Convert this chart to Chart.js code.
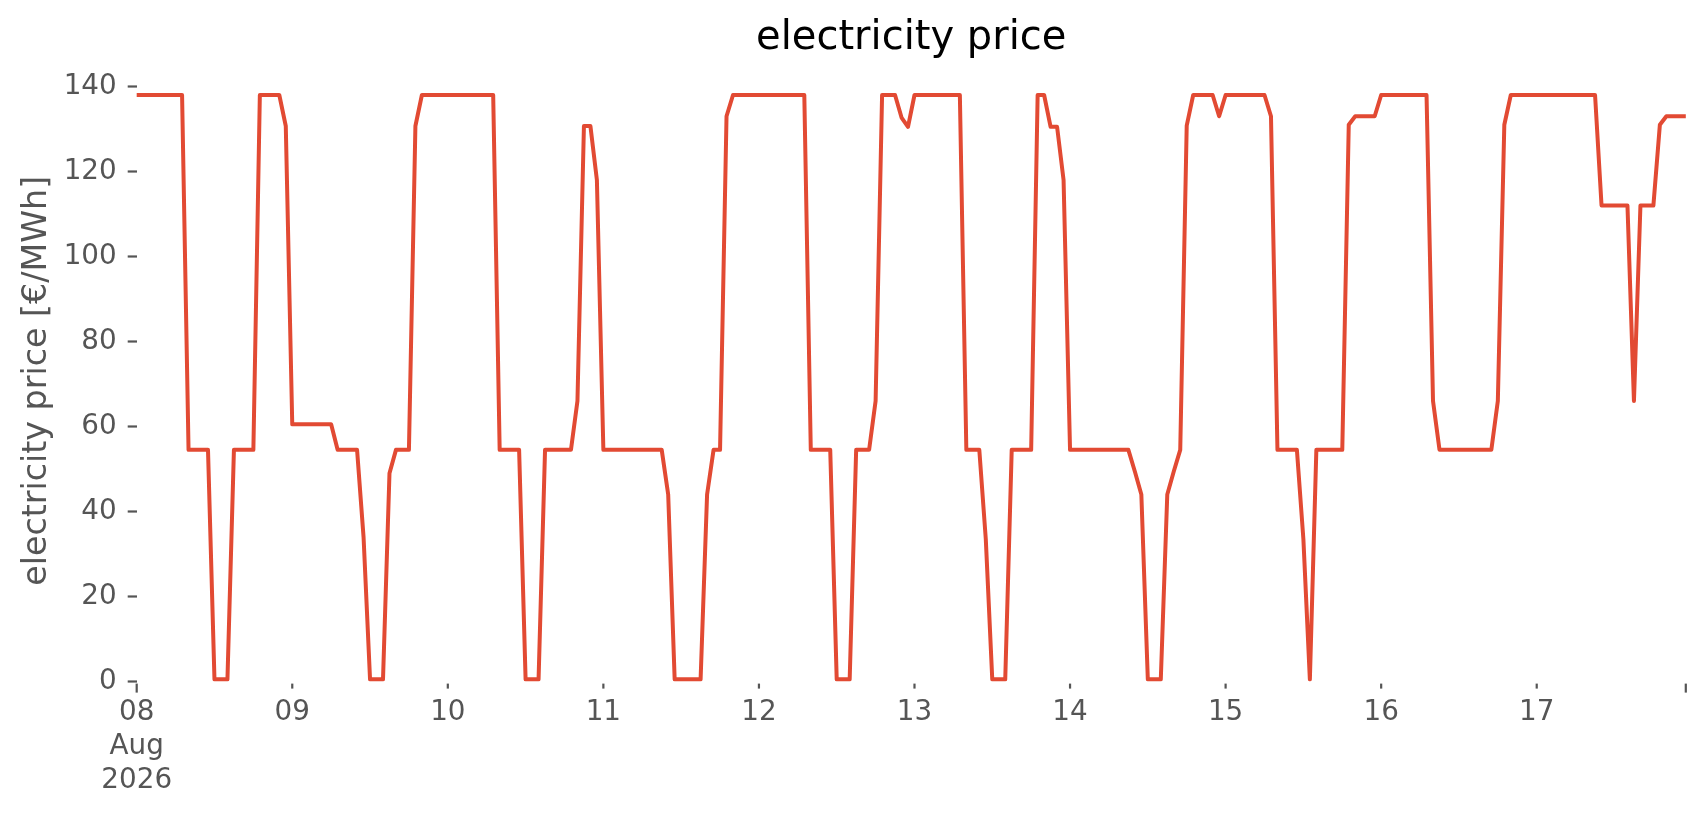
<!DOCTYPE html>
<html>
<head>
<meta charset="utf-8">
<script src="https://cdn.jsdelivr.net/npm/chart.js@4.4.1/dist/chart.umd.min.js"></script>
<style>
  html, body { margin: 0; padding: 0; background: #ffffff; }
  #wrap { width: 1706px; height: 815px; }
</style>
</head>
<body>
<div id="wrap"><canvas id="c" width="1706" height="815"></canvas></div>
<script>
// ---- data (hourly electricity price, €/MWh) ----
const dayLabels = ['08', '09', '10', '11', '12', '13', '14', '15', '16', '17'];
const monthLabel = 'Aug';
const yearLabel = '2026';

const price08 = [138, 138, 138, 138, 138, 138, 138, 138, 54.5, 54.5, 54.5, 54.5, 0.5, 0.5, 0.5, 54.5, 54.5, 54.5, 54.5, 138, 138, 138, 138, 130.7];
const price09 = [60.5, 60.5, 60.5, 60.5, 60.5, 60.5, 60.5, 54.5, 54.5, 54.5, 54.5, 34, 0.5, 0.5, 0.5, 49, 54.5, 54.5, 54.5, 130.7, 138, 138, 138, 138];
const price10 = [138, 138, 138, 138, 138, 138, 138, 138, 54.5, 54.5, 54.5, 54.5, 0.5, 0.5, 0.5, 54.5, 54.5, 54.5, 54.5, 54.5, 66, 130.7, 130.7, 118];
const price11 = [54.5, 54.5, 54.5, 54.5, 54.5, 54.5, 54.5, 54.5, 54.5, 54.5, 44, 0.5, 0.5, 0.5, 0.5, 0.5, 44, 54.5, 54.5, 133, 138, 138, 138, 138];
const price12 = [138, 138, 138, 138, 138, 138, 138, 138, 54.5, 54.5, 54.5, 54.5, 0.5, 0.5, 0.5, 54.5, 54.5, 54.5, 66, 138, 138, 138, 132.7, 130.5];
const price13 = [138, 138, 138, 138, 138, 138, 138, 138, 54.5, 54.5, 54.5, 33.5, 0.5, 0.5, 0.5, 54.5, 54.5, 54.5, 54.5, 138, 138, 130.5, 130.5, 118];
const price14 = [54.5, 54.5, 54.5, 54.5, 54.5, 54.5, 54.5, 54.5, 54.5, 54.5, 49.4, 44, 0.5, 0.5, 0.5, 44, 49.4, 54.5, 130.8, 138, 138, 138, 138, 133];
const price15 = [138, 138, 138, 138, 138, 138, 138, 133, 54.5, 54.5, 54.5, 54.5, 33.5, 0.5, 54.5, 54.5, 54.5, 54.5, 54.5, 131, 133, 133, 133, 133];
const price16 = [138, 138, 138, 138, 138, 138, 138, 138, 66, 54.5, 54.5, 54.5, 54.5, 54.5, 54.5, 54.5, 54.5, 54.5, 66, 131, 138, 138, 138, 138];
const price17 = [138, 138, 138, 138, 138, 138, 138, 138, 138, 138, 112, 112, 112, 112, 112, 66, 112, 112, 112, 131, 133, 133, 133, 133];

const yTickValues = [0, 20, 40, 60, 80, 100, 120, 140];

// ---- build series ----
const dailyPrices = [price08, price09, price10, price11, price12, price13, price14, price15, price16, price17];
const prices = dailyPrices.flat();
const points = prices.map((v, i) => ({ x: i, y: v }));
const lastHour = prices.length - 1;
const xTickValues = dayLabels.map((_, i) => i * 24).concat([lastHour]);

const FONT = 'DejaVu Sans';
const GREY = '#555555';

// tick marks on the date axis (major at start/end, minor at each day)
const xTickMarks = {
  id: 'xTickMarks',
  afterDraw(chart) {
    const s = chart.scales.x;
    const ctx = chart.ctx;
    const b = chart.chartArea.bottom;
    ctx.save();
    ctx.strokeStyle = GREY;
    ctx.lineWidth = 2.2;
    xTickValues.forEach(v => {
      const px = s.getPixelForValue(v);
      const major = (v === 0 || v === lastHour);
      ctx.beginPath();
      ctx.moveTo(px, b);
      ctx.lineTo(px, b + (major ? 9 : 5));
      ctx.stroke();
    });
    ctx.restore();
  }
};

new Chart(document.getElementById('c'), {
  type: 'line',
  data: {
    datasets: [{
      data: points,
      borderColor: '#E24A33',
      backgroundColor: '#E24A33',
      borderWidth: 4,
      pointRadius: 0,
      tension: 0,
      borderJoinStyle: 'round',
      borderCapStyle: 'square',
      fill: false
    }]
  },
  options: {
    responsive: false,
    devicePixelRatio: 1,
    animation: false,
    layout: { padding: { left: 0, right: 20.2, top: 0, bottom: 0 } },
    plugins: {
      legend: { display: false },
      tooltip: { enabled: false },
      title: {
        display: true,
        text: 'electricity price',
        color: '#000000',
        fullSize: false,
        font: { family: FONT, size: 40, weight: 'normal', lineHeight: 1.2 },
        padding: { top: 15, bottom: 15 }
      }
    },
    scales: {
      x: {
        type: 'linear',
        min: 0,
        max: lastHour,
        offset: false,
        afterBuildTicks: s => { s.ticks = xTickValues.map(v => ({ value: v })); },
        afterFit: s => { s.height = 815 - 683.6; },
        ticks: {
          autoSkip: false,
          maxRotation: 0,
          minRotation: 0,
          padding: 12.7,
          color: GREY,
          font: { family: FONT, size: 27.8, lineHeight: 1.22 },
          callback: v => {
            if (v === 0) return [dayLabels[0], monthLabel, yearLabel];
            if (v % 24 === 0) return dayLabels[v / 24];
            return '';
          }
        },
        grid: { display: false, drawTicks: false },
        border: { display: false }
      },
      y: {
        min: -0.5,
        max: 142,
        afterBuildTicks: s => { s.ticks = yTickValues.map(v => ({ value: v })); },
        afterFit: s => { s.width = 136.7; },
        ticks: {
          padding: 11,
          color: GREY,
          font: { family: FONT, size: 27.8, lineHeight: 1.2 }
        },
        grid: {
          display: true,
          drawOnChartArea: false,
          drawTicks: true,
          tickLength: 9,
          tickColor: GREY,
          tickWidth: 2.2
        },
        border: { display: false },
        title: {
          display: true,
          text: 'electricity price [€/MWh]',
          color: GREY,
          font: { family: FONT, size: 33.3, lineHeight: 1.2 },
          padding: { top: 17, bottom: 0 }
        }
      }
    }
  },
  plugins: [xTickMarks]
});
</script>
</body>
</html>
